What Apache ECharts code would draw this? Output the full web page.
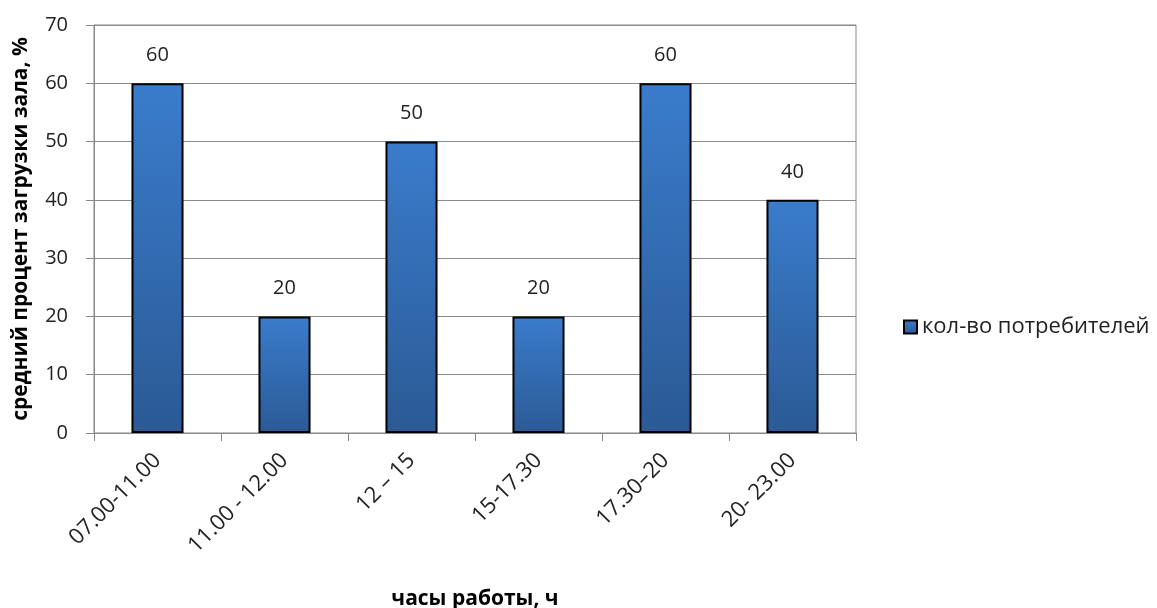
<!DOCTYPE html>
<html>
<head>
<meta charset="utf-8">
<script src="https://cdn.jsdelivr.net/npm/echarts@6/dist/echarts.min.js"></script>
<style>
  html, body { margin: 0; padding: 0; background: #fff; }
  #chart { width: 1157px; height: 608px; }
</style>
</head>
<body>
<div id="chart"></div>
<script>
const categories = ["07.00-11.00", "11.00 - 12.00", "12 – 15", "15-17.30", "17.30–20", "20- 23.00"];
const values = [60, 20, 50, 20, 60, 40];
const seriesName = "кол-во потребителей";
const yTitle = "средний процент загрузки зала, %";
const xTitle = "часы работы, ч";

const chart = echarts.init(document.getElementById("chart"));
const font = "'Open Sans', 'Noto Sans', sans-serif";
chart.setOption({
  animation: false,
  textStyle: { fontFamily: font },
  grid: {
    left: 94, right: 301, top: 25, bottom: 175,
    outerBoundsMode: "none",
    show: true, borderColor: "#888", borderWidth: 1
  },
  legend: {
    left: 898,
    top: 311,
    orient: "vertical",
    itemWidth: 13,
    itemHeight: 13,
    itemGap: 4,
    textStyle: { fontSize: 22, color: "#222", fontFamily: font },
    data: [{ name: seriesName, icon: "rect" }]
  },
  xAxis: {
    type: "category",
    data: categories,
    name: xTitle,
    nameLocation: "middle",
    nameGap: 156,
    nameTextStyle: { fontSize: 21, fontWeight: "bold", color: "#000" },
    axisLine: { lineStyle: { color: "#888" } },
    axisTick: { show: true, length: 8, lineStyle: { color: "#888" } },
    axisLabel: { rotate: 45, fontSize: 22, color: "#222", margin: 24 }
  },
  yAxis: {
    type: "value",
    min: 0,
    max: 70,
    interval: 10,
    name: yTitle,
    nameLocation: "middle",
    nameGap: 62,
    nameTextStyle: { fontSize: 21, fontWeight: "bold", color: "#000" },
    axisLine: { show: true, lineStyle: { color: "#888" } },
    axisTick: { show: true, length: 8, lineStyle: { color: "#888" } },
    axisLabel: { fontSize: 20, color: "#222", margin: 26 },
    splitLine: { lineStyle: { color: "#8a8a8a" } }
  },
  series: [{
    name: seriesName,
    type: "bar",
    data: values,
    barWidth: "41%",
    itemStyle: {
      color: new echarts.graphic.LinearGradient(0, 0, 0, 1, [
        { offset: 0, color: "#3a7ccc" },
        { offset: 1, color: "#2b5a95" }
      ]),
      borderColor: "#000",
      borderWidth: 2
    },
    label: { show: true, position: "top", distance: 18, fontSize: 20, color: "#222" }
  }]
});
</script>
</body>
</html>
